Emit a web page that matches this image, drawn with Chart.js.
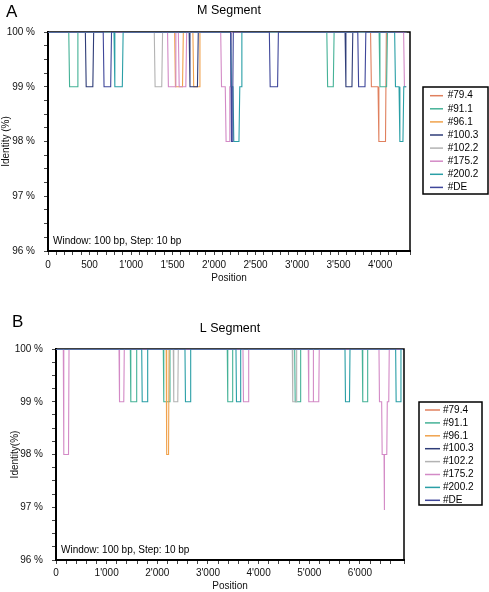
<!DOCTYPE html>
<html lang="en">
<head>
<meta charset="UTF-8">
<title>M and L segment sequence identity</title>
<script src="https://cdn.jsdelivr.net/npm/chart.js"></script>
<style>
    body {
        margin: 0;
        background: #fff;
        font-family: "Liberation Sans", Arial, sans-serif;
    }
    .panel {
        position: absolute;
        left: 0;
        width: 489px;
        height: 296px;
    }
    .letter {
        position: absolute;
        font-size: 17px;
        color: #000;
        line-height: 19px;
    }
</style>
</head>
<body>
<div class="panel" style="top:0"><canvas id="chartM" width="489" height="296"></canvas></div>
<div class="panel" style="top:296px"><canvas id="chartL" width="489" height="296"></canvas></div>
<div class="letter" style="left:6px;top:2px">A</div>
<div class="letter" style="left:12px;top:312px">B</div>
<script>
    const seriesNames = ['#79.4', '#91.1', '#96.1', '#100.3', '#102.2', '#175.2', '#200.2', '#DE'];
    const seriesColors = ['#e0805e', '#45b297', '#f0a24c', '#2f3d78', '#b3b3b3', '#d38ac6', '#2a9fa6', '#3f479a'];

    // M segment, [position (bp), identity (%)]
    const m_79_4 = [[0,100],[3885,100],[3895,99],[3975,99],[3985,98],[4065,98],[4075,100],[4315,100]];
    const m_91_1 = [[0,100],[250,100],[260,99],[350,99],[360,100],[3358,100],[3368,99],[3436,99],[3446,100],
                    [3988,100],[3998,99],[4078,99],[4088,100],[4315,100]];
    const m_96_1 = [[0,100],[1525,100],[1535,99],[1620,99],[1630,100],[1745,100],[1755,99],[1820,99],[1830,100],[4315,100]];
    const m_100_3 = [[0,100],[450,100],[460,99],[540,99],[550,100],[1700,100],[1710,99],[1800,99],[1810,100],
                     [3578,100],[3588,99],[3661,99],[3671,100],[4315,100]];
    const m_102_2 = [[0,100],[1280,100],[1290,99],[1370,99],[1380,100],[4315,100]];
    const m_175_2 = [[0,100],[1440,100],[1450,99],[1530,99],[1540,100],[1570,100],[1580,99],[1660,99],[1670,100],
                     [2080,100],[2090,99],[2135,99],[2145,98],[2180,98],[2190,99],[2200,99],[2210,100],
                     [4283,100],[4293,99],[4315,99]];
    const m_200_2 = [[0,100],[795,100],[805,99],[895,99],[905,100],[2200,100],[2210,99],[2228,99],[2238,98],
                     [2300,98],[2310,99],[2325,99],[2335,100],[4175,100],[4185,99],[4228,99],[4238,98],
                     [4275,98],[4285,99],[4315,99]];
    const m_DE = [[0,100],[665,100],[675,99],[755,99],[765,100],[2200,100],[2205,99],[2210,98],[2222,98],
                  [2226,99],[2232,100],[2666,100],[2676,99],[2765,99],[2775,100],[3731,100],[3741,99],
                  [3818,99],[3828,100],[4315,100]];

    // L segment, [position (bp), identity (%)]
    const l_79_4 = [[0,100],[6850,100]];
    const l_91_1 = [[0,100],[1467,100],[1477,99],[1583,99],[1593,100],[2118,100],[2128,99],[2240,99],[2250,100],
                    [3381,100],[3391,99],[3478,99],[3488,100],[4712,100],[4722,99],[4820,99],[4830,100],
                    [6046,100],[6056,99],[6143,99],[6153,100],[6850,100]];
    const l_96_1 = [[0,100],[2175,100],[2185,98],[2222,98],[2232,100],[6850,100]];
    const l_100_3 = [[0,100],[6850,100]];
    const l_102_2 = [[0,100],[2315,100],[2325,99],[2404,99],[2414,100],[4664,100],[4674,99],[4741,99],[4751,100],[6850,100]];
    const l_175_2 = [[0,100],[144,100],[154,98],[247,98],[257,100],[1244,100],[1254,99],[1338,99],[1348,100],
                     [3691,100],[3701,99],[3794,99],[3804,100],[4980,100],[4990,99],[5074,99],[5079,100],
                     [5084,99],[5187,99],[5197,100],[6376,100],[6386,99],[6429,99],[6439,98],[6476,98],
                     [6481,96.95],[6486,98],[6530,98],[6540,99],[6569,99],[6579,100],[6850,100]];
    const l_200_2 = [[0,100],[1692,100],[1702,99],[1800,99],[1810,100],[2546,100],[2556,99],[2649,99],[2659,100],
                     [3553,100],[3563,99],[3636,99],[3646,100],[5705,100],[5715,99],[5794,99],[5804,100],
                     [6705,100],[6715,99],[6800,99],[6810,100],[6850,100]];
    const l_DE = [[0,100],[6850,100]];

    const FONT = '"Liberation Sans", Arial, sans-serif';
    Chart.defaults.font.family = FONT;
    Chart.defaults.font.size = 10;
    Chart.defaults.color = '#111';

    function fmtPos(v) {
        const s = String(v);
        return s.length > 3 ? s.slice(0, -3) + "'" + s.slice(-3) : s;
    }

    // frame, title, note and boxed legend
    const panelDecor = {
        id: 'panelDecor',
        beforeDatasetsDraw(chart, args, opts) {
            const { ctx, chartArea: a } = chart;
            ctx.save();
            ctx.strokeStyle = '#000';
            ctx.lineWidth = 1.5;
            ctx.strokeRect(a.left, a.top, a.right - a.left, a.bottom - a.top);
            ctx.restore();
        },
        afterDraw(chart, args, opts) {
            const { ctx, chartArea: a } = chart;
            ctx.save();
            ctx.fillStyle = '#000';
            ctx.textBaseline = 'middle';
            ctx.font = '12.5px ' + FONT;
            ctx.textAlign = 'center';
            ctx.fillText(opts.title, (a.left + a.right) / 2, opts.titleY);

            ctx.font = '10px ' + FONT;
            ctx.textAlign = 'left';
            ctx.fillText(opts.note, a.left + 5, a.bottom - 10);

            const lg = opts.legend;
            ctx.strokeStyle = '#000';
            ctx.lineWidth = 1.5;
            ctx.strokeRect(lg.x, lg.y, lg.w, lg.h);
            chart.data.datasets.forEach((ds, i) => {
                const y = lg.first + i * lg.step;
                ctx.strokeStyle = ds.borderColor;
                ctx.lineWidth = 1.5;
                ctx.beginPath();
                ctx.moveTo(lg.lineX0, y);
                ctx.lineTo(lg.lineX1, y);
                ctx.stroke();
                ctx.fillText(ds.label, lg.textX, y);
            });
            ctx.restore();
        }
    };

    function makeChart(id, cfg) {
        return new Chart(document.getElementById(id), {
            type: 'line',
            data: {
                datasets: cfg.series.map((pts, i) => ({
                    label: seriesNames[i],
                    data: pts.map(p => ({ x: p[0], y: p[1] })),
                    borderColor: seriesColors[i],
                    borderWidth: 1.1,
                    pointRadius: 0,
                    tension: 0,
                    fill: false,
                    order: cfg.series.length - 1 - i
                }))
            },
            options: {
                responsive: false,
                animation: false,
                devicePixelRatio: 1,
                layout: { padding: { top: cfg.top, right: cfg.right, left: 0, bottom: 0 } },
                plugins: {
                    legend: { display: false },
                    tooltip: { enabled: false },
                    panelDecor: { title: cfg.title, titleY: cfg.titleY, note: 'Window: 100 bp, Step: 10 bp', legend: cfg.legend }
                },
                scales: {
                    x: {
                        type: 'linear',
                        min: 0,
                        max: cfg.xMax,
                        afterFit: s => { s.height = cfg.xHeight; },
                        ticks: {
                            stepSize: cfg.xStep,
                            autoSkip: false,
                            maxRotation: 0,
                            padding: cfg.xPad,
                            callback: v => v % cfg.xLabelEvery === 0 ? fmtPos(v) : ''
                        },
                        grid: { drawOnChartArea: false, tickLength: 4, color: '#444' },
                        border: { color: '#000', width: 2 },
                        title: { display: true, text: 'Position', padding: { top: 0, bottom: cfg.xTitlePad } }
                    },
                    y: {
                        min: 96,
                        max: 100,
                        afterFit: s => { s.width = cfg.yWidth; },
                        ticks: {
                            stepSize: 0.25,
                            autoSkip: false,
                            padding: cfg.yPad,
                            callback: v => Number.isInteger(v) ? v + ' %' : ''
                        },
                        grid: { drawOnChartArea: false, tickLength: 4, color: '#444' },
                        border: { color: '#000', width: 2 },
                        title: { display: true, text: cfg.yTitle, padding: { top: cfg.yTitlePad, bottom: 0 } }
                    }
                }
            },
            plugins: [panelDecor]
        });
    }

    makeChart('chartM', {
        series: [m_79_4, m_91_1, m_96_1, m_100_3, m_102_2, m_175_2, m_200_2, m_DE],
        title: 'M Segment', titleY: 11,
        top: 32, right: 79, xHeight: 45, yWidth: 48,
        xMax: 4360, xStep: 100, xLabelEvery: 500, xPad: 4, xTitlePad: 12,
        yPad: 9, yTitle: 'Identity (%)', yTitlePad: 0,
        legend: { x: 423, y: 87, w: 65, h: 107, first: 95.7, step: 13.1, lineX0: 430, lineX1: 443, textX: 447.7 }
    });

    makeChart('chartL', {
        series: [l_79_4, l_91_1, l_96_1, l_100_3, l_102_2, l_175_2, l_200_2, l_DE],
        title: 'L Segment', titleY: 33,
        top: 53, right: 85, xHeight: 32, yWidth: 56,
        xMax: 6870, xStep: 200, xLabelEvery: 1000, xPad: 3, xTitlePad: 0,
        yPad: 9, yTitle: 'Identity(%)', yTitlePad: 9,
        legend: { x: 419, y: 106, w: 63, h: 103, first: 114, step: 12.9, lineX0: 425, lineX1: 440, textX: 443 }
    });
</script>
</body>
</html>
